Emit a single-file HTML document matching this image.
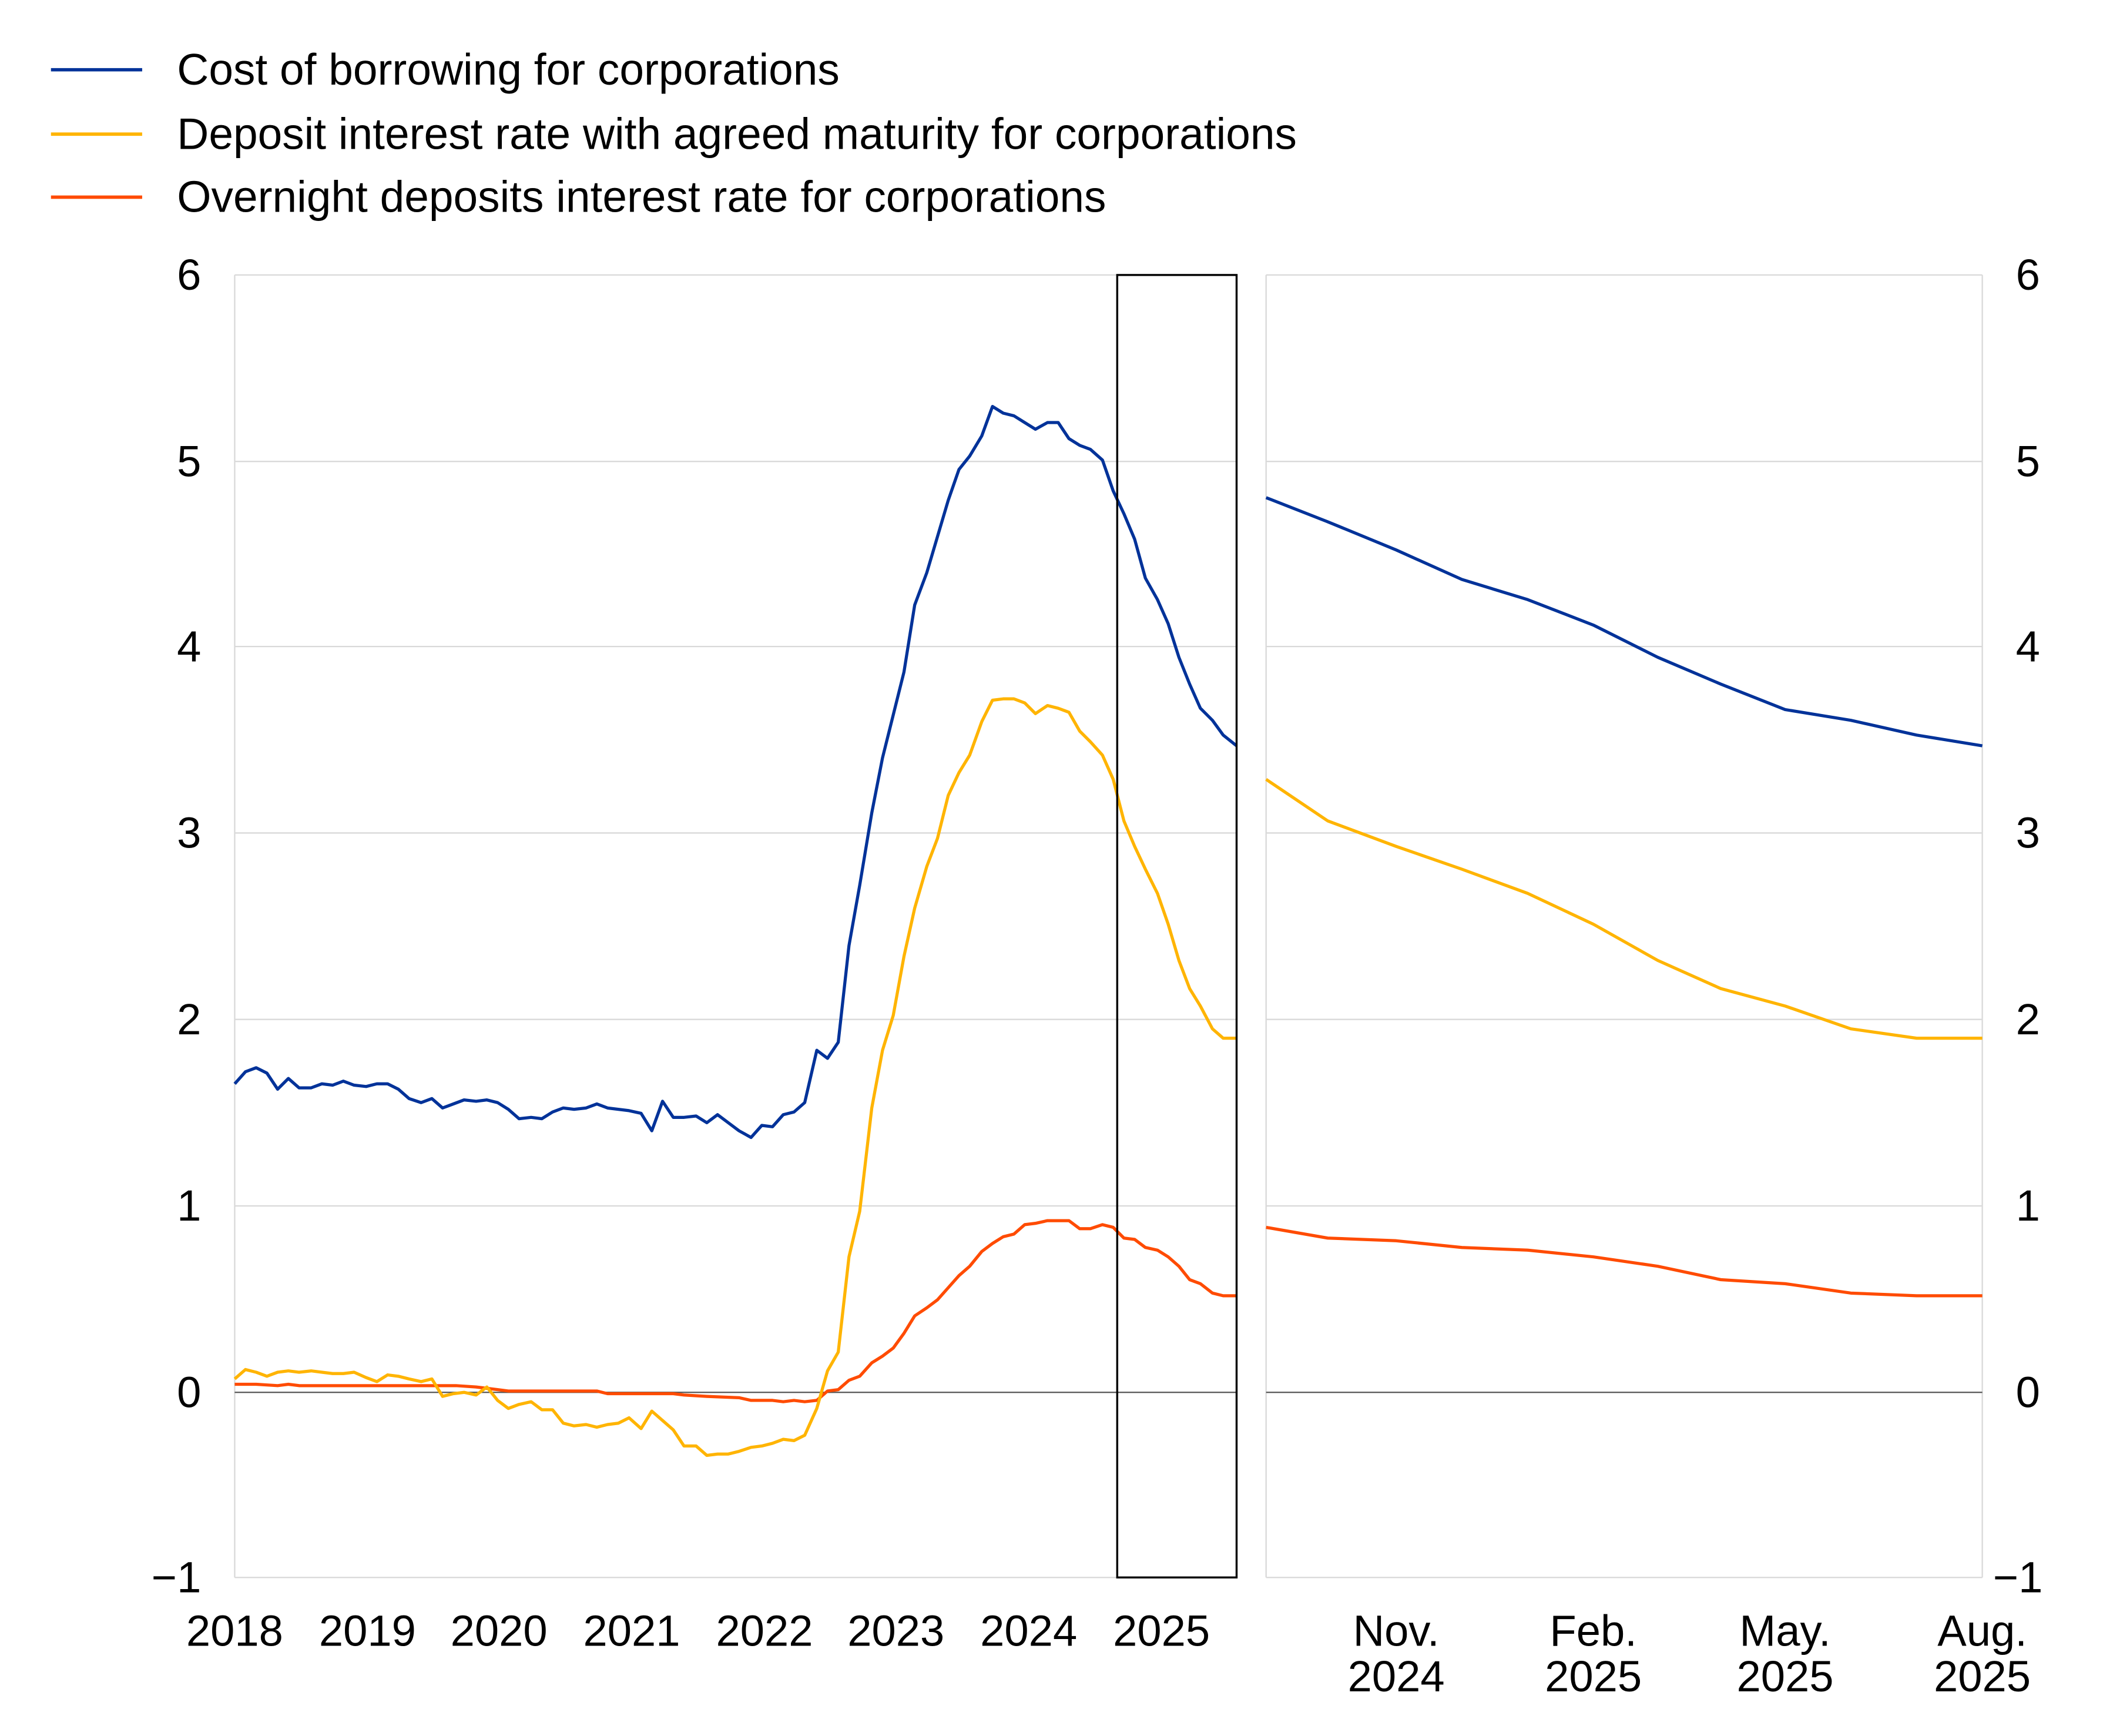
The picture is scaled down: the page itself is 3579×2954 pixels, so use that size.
<!DOCTYPE html>
<html><head><meta charset="utf-8"><style>
html,body{margin:0;padding:0;background:#fff;}
svg{display:block;}
text{font-family:"Liberation Sans",Arial,sans-serif;fill:#000;}
</style></head><body>
<svg width="3579" height="2954" viewBox="0 0 1568 1294.2" preserveAspectRatio="none" xmlns="http://www.w3.org/2000/svg">
<line x1="38" y1="52" x2="106" y2="52" stroke="#003299" stroke-width="2.5"/>
<line x1="38" y1="100" x2="106" y2="100" stroke="#FFB400" stroke-width="2.5"/>
<line x1="38" y1="147" x2="106" y2="147" stroke="#FF4B00" stroke-width="2.5"/>
<text x="132" y="63" font-size="32.8">Cost of borrowing for corporations</text>
<text x="132" y="111" font-size="32.8">Deposit interest rate with agreed maturity for corporations</text>
<text x="132" y="158" font-size="32.8">Overnight deposits interest rate for corporations</text>

<g stroke="#d9d9d9" stroke-width="1">
<line x1="175" y1="205" x2="922" y2="205"/><line x1="175" y1="344" x2="922" y2="344"/>
<line x1="175" y1="482" x2="922" y2="482"/><line x1="175" y1="621" x2="922" y2="621"/>
<line x1="175" y1="760" x2="922" y2="760"/><line x1="175" y1="899" x2="922" y2="899"/>
<line x1="175" y1="1176" x2="922" y2="1176"/>
<line x1="175" y1="205" x2="175" y2="1176"/>
<line x1="944" y1="205" x2="1478" y2="205"/><line x1="944" y1="344" x2="1478" y2="344"/>
<line x1="944" y1="482" x2="1478" y2="482"/><line x1="944" y1="621" x2="1478" y2="621"/>
<line x1="944" y1="760" x2="1478" y2="760"/><line x1="944" y1="899" x2="1478" y2="899"/>
<line x1="944" y1="1176" x2="1478" y2="1176"/>
<line x1="944" y1="205" x2="944" y2="1176"/><line x1="1478" y1="205" x2="1478" y2="1176"/>
</g>
<line x1="175" y1="1038" x2="922" y2="1038" stroke="#555" stroke-width="1"/>
<line x1="944" y1="1038" x2="1478" y2="1038" stroke="#555" stroke-width="1"/>

<g font-size="32.5" text-anchor="end">
<text x="150" y="216">6</text><text x="150" y="355">5</text><text x="150" y="493">4</text>
<text x="150" y="632">3</text><text x="150" y="771">2</text><text x="150" y="910">1</text>
<text x="150" y="1049">0</text><text x="150" y="1187">−1</text>
</g>
<g font-size="32.5" text-anchor="start">
<text x="1503" y="216">6</text><text x="1503" y="355">5</text><text x="1503" y="493">4</text>
<text x="1503" y="632">3</text><text x="1503" y="771">2</text><text x="1503" y="910">1</text>
<text x="1503" y="1049">0</text><text x="1486" y="1187">−1</text>
</g>
<g font-size="32.5" text-anchor="middle">
<text x="175" y="1227">2018</text><text x="274" y="1227">2019</text><text x="372" y="1227">2020</text>
<text x="471" y="1227">2021</text><text x="570" y="1227">2022</text><text x="668" y="1227">2023</text>
<text x="767" y="1227">2024</text><text x="866" y="1227">2025</text>
<text x="1041" y="1227">Nov.</text><text x="1041" y="1261">2024</text>
<text x="1188" y="1227">Feb.</text><text x="1188" y="1261">2025</text>
<text x="1331" y="1227">May.</text><text x="1331" y="1261">2025</text>
<text x="1478" y="1227">Aug.</text><text x="1478" y="1261">2025</text>
</g>

<g fill="none" stroke-width="2.3" stroke-linejoin="round">
<polyline stroke="#FF4B00" points="175,1032 191,1032 207,1033 215,1032 223,1033 340,1033 355,1034 371,1036 379,1037 445,1037 453,1039 502,1039 510,1040 527,1041 551,1042 560,1044 576,1044 584,1045 592,1044 600,1045 609,1044 617,1037 625,1036 633,1029 641,1026 650,1016 658,1011 666,1005 674,994 682,981 691,975 699,969 707,960 715,951 723,944 732,933 740,927 748,922 756,920 764,913 772,912 781,910 789,910 797,910 805,916 813,916 822,913 830,915 838,923 846,924 854,930 863,932 871,937 879,944 887,954 895,957 904,964 912,966 922,966"/>
<polyline stroke="#FFB400" points="175,1028 183,1021 191,1023 199,1026 207,1023 215,1022 223,1023 232,1022 240,1023 248,1024 256,1024 264,1023 273,1027 281,1030 289,1025 297,1026 305,1028 314,1030 322,1028 330,1041 338,1039 346,1038 355,1040 363,1034 371,1044 379,1050 387,1047 396,1045 404,1051 412,1051 420,1061 428,1063 437,1062 445,1064 453,1062 461,1061 469,1057 478,1065 486,1052 494,1059 502,1066 510,1078 519,1078 527,1085 535,1084 543,1084 551,1082 560,1079 568,1078 576,1076 584,1073 592,1074 600,1070 609,1050 617,1022 625,1008 633,937 641,903 650,826 658,783 666,757 674,713 682,677 691,646 699,625 707,593 715,576 723,563 732,538 740,522 748,521 756,521 764,524 772,532 781,526 789,528 797,531 805,545 813,553 822,563 830,581 838,612 846,631 854,648 863,666 871,689 879,716 887,737 895,750 904,767 912,774 922,774"/>
<polyline stroke="#003299" points="175,808 183,799 191,796 199,800 207,812 215,804 223,811 232,811 240,808 248,809 256,806 264,809 273,810 281,808 289,808 297,812 305,819 314,822 322,819 330,826 338,823 346,820 355,821 363,820 371,822 379,827 387,834 396,833 404,834 412,829 420,826 428,827 437,826 445,823 453,826 461,827 469,828 478,830 486,843 494,821 502,833 510,833 519,832 527,837 535,831 543,837 551,843 560,848 568,839 576,840 584,831 592,829 600,822 609,783 617,789 625,777 633,705 641,660 650,606 658,565 666,533 674,501 682,451 691,427 699,400 707,373 715,350 723,340 732,325 740,303 748,308 756,310 764,315 772,320 781,315 789,315 797,327 805,332 813,335 822,343 830,366 838,383 846,402 854,431 863,447 871,465 879,490 887,510 895,528 904,537 912,548 922,556"/>

<polyline stroke="#FF4B00" points="944,915 990,923 1041,925 1090,930 1139,932 1188,937 1236,944 1283,954 1331,957 1380,964 1429,966 1478,966"/>
<polyline stroke="#FFB400" points="944,581 990,612 1041,631 1090,648 1139,666 1188,689 1236,716 1283,737 1331,750 1380,767 1429,774 1478,774"/>
<polyline stroke="#003299" points="944,371 990,389 1041,410 1090,432 1139,447 1188,466 1236,490 1283,510 1331,529 1380,537 1429,548 1478,556"/>
</g>
<rect x="833" y="205" width="89" height="971" fill="none" stroke="#000" stroke-width="1.5"/>
</svg>
</body></html>
